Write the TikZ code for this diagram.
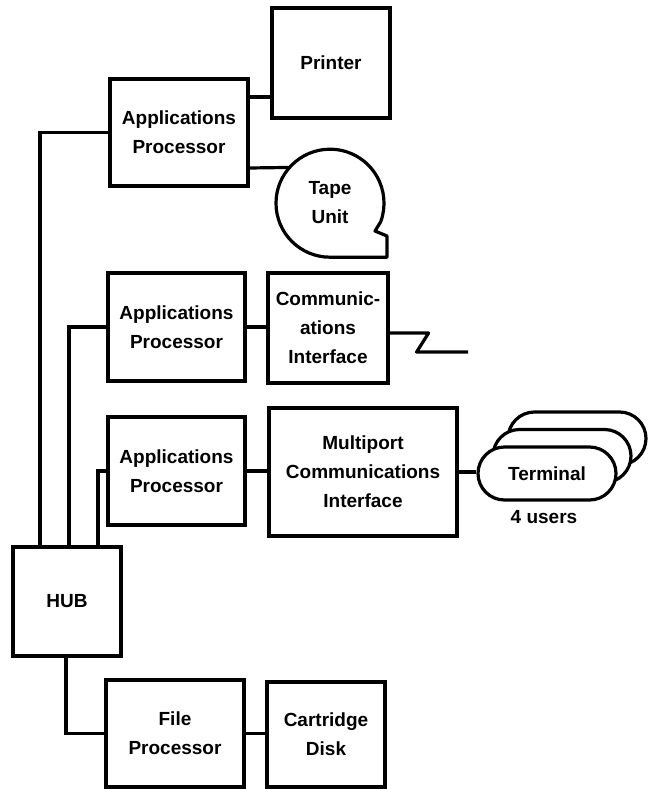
\documentclass[tikz,border=0pt]{standalone}
\usepackage{fontspec}
\setmainfont{Liberation Sans}
\usetikzlibrary{shapes.misc,calc}
\newcommand\boxfont{\bfseries\fontsize{19}{29}\selectfont}
\begin{document}
\begin{tikzpicture}[x=1pt,y=-1pt,
  box/.style={draw, line width=3.2pt, rectangle, inner sep=0pt, align=center, font=\boxfont},
  conn/.style={line width=3.2pt},
  term/.style={draw, fill=white, line width=3.2pt, rounded rectangle, minimum width=138pt, minimum height=53pt, inner sep=0pt, font=\boxfont}]
\useasboundingbox (0,0) rectangle (656,789);

% boxes
\node[box, minimum width=118pt, minimum height=110pt] (printer) at (331,63) {Printer};
\node[box, minimum width=138pt, minimum height=107pt] (ap1) at (179,132.5) {Applications\\Processor};
\node[circle, minimum size=108pt, inner sep=0pt, align=center, font=\boxfont] (tape) at (330,203) {Tape\\Unit};
\draw[line width=3.2pt, line join=round] (tape.south) arc[start angle=90, end angle=380, radius=54]
   -- ($(tape.center)+(45,28)$) -- ($(tape.center)+(57,33)$) |- (tape.south);

\node[box, minimum width=137pt, minimum height=108pt] (ap2) at (176.5,327) {Applications\\Processor};
\node[box, minimum width=120pt, minimum height=110pt] (ci) at (328,328) {Communic-\\ations\\Interface};

\node[box, minimum width=137pt, minimum height=108pt] (ap3) at (176.5,471) {Applications\\Processor};
\node[box, minimum width=188pt, minimum height=128pt] (mp) at (363,472) {Multiport\\Communications\\Interface};

\node[term] (term3) at (577,438.5) {};
\node[term] (term2) at (562,456) {};
\node[term] (term) at (547,473.5) {Terminal};
\node[font=\boxfont] (users) at (544,517) {4 users};

\node[box, minimum width=108pt, minimum height=109pt] (hub) at (67,601.5) {HUB};
\node[box, minimum width=138pt, minimum height=107pt] (fp) at (175,733.5) {File\\Processor};
\node[box, minimum width=118pt, minimum height=105pt] (cd) at (326,734.5) {Cartridge\\Disk};

% connectors
\draw[conn] ([yshift=35.5pt]ap1.east) -- ([yshift=35.5pt]ap1.east -| printer.west);
\draw[conn] ([yshift=-35.5pt]ap1.east) -- (tape.139.6);
\draw[conn] (ap1.west) -| ([xshift=-27pt]hub.north);
\draw[conn] (ap2.west) -| ([xshift=2pt]hub.north);
\draw[conn] (ap3.west) -| ([xshift=31pt]hub.north);
\draw[conn] ([xshift=-1pt]hub.south) |- (fp.west);
\draw[conn] (fp.east) -- (fp.east -| cd.west);
\draw[conn] (ap2.east) -- (ap2.east -| ci.west);
\coordinate (line) at (468,352);
\draw[conn, line join=round] ([yshift=-5pt]ci.east) -- ++(39,0) -- ++(-12,19) -- (line);
\draw[conn] (ap3.east) -- (ap3.east -| mp.west);
\draw[conn] (mp.east) -- (mp.east -| term.west);
\end{tikzpicture}
\end{document}
